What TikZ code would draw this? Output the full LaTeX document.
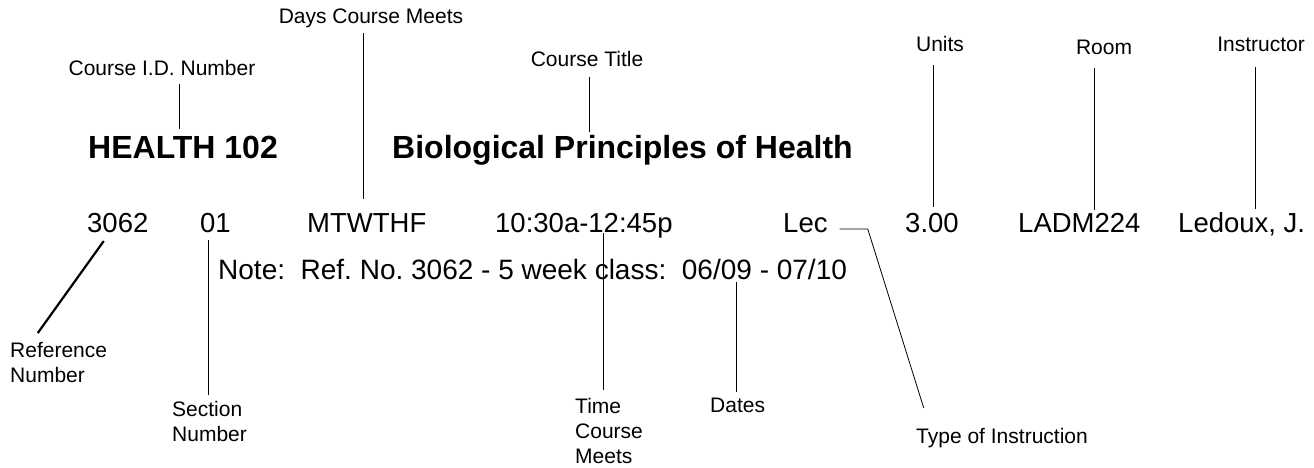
\documentclass[tikz,border=0pt]{standalone}
\usepackage{fontspec}
\setmainfont{Liberation Sans}
\frenchspacing

\begin{document}
\begin{tikzpicture}[x=1pt, y=-1pt,
    lbl/.style={inner sep=0pt, font=\fontsize{21}{25}\selectfont},
    row/.style={inner sep=0pt, anchor=base west, font=\fontsize{27.5}{33}\selectfont},
    ttl/.style={inner sep=0pt, anchor=base west, font=\fontsize{32}{38}\selectfont\bfseries},
    lead/.style={black, line width=0.8pt}]
            \useasboundingbox (0,0) rectangle (1314,468);

            % labels above
            \node[lbl, anchor=base] (lblDays) at (371,24) {Days Course Meets};
            \node[lbl, anchor=base] (lblCID) at (162,76) {Course I.D. Number};
            \node[lbl, anchor=base] (lblTitle) at (587,67) {Course Title};
            \node[lbl, anchor=base] (lblUnits) at (940,52) {Units};
            \node[lbl, anchor=base] (lblRoom) at (1104,55) {Room};
            \node[lbl, anchor=base] (lblInstr) at (1261,52) {Instructor};

            % course heading
            \node[ttl] (cid) at (88,158) {HEALTH 102};
            \node[ttl] (title) at (392,158) {Biological Principles of Health};

            % class line
            \node[row] (ref) at (87,232) {3062};
            \node[row] (sec) at (200,232) {01};
            \node[row] (days) at (307,232) {MTWTHF};
            \node[row] (time) at (495,232) {10:30a-12:45p};
            \node[row] (lec) at (783,232) {Lec};
            \node[row] (units) at (905,232) {3.00};
            \node[row] (room) at (1018,232) {LADM224};
            \node[row] (instr) at (1178,232) {Ledoux, J.};
            \node[row, font=\fontsize{28}{33}\selectfont] (note) at (218,279)
                {Note:\ \ Ref. No. 3062 - 5 week class:\ \ 06/09 - 07/10};

            % labels below
            \node[lbl, anchor=north west, align=left] (lblRef) at (10,342) {Reference\\Number};
            \node[lbl, anchor=north west, align=left] (lblSec) at (172,401) {Section\\Number};
            \node[lbl, anchor=north west, align=left] (lblTime) at (575,398) {Time\\Course\\Meets};
            \node[lbl, anchor=north west] (lblDates) at (710,398) {Dates};
            \node[lbl, anchor=north west] (lblType) at (916,428) {Type of Instruction};

            % leader lines
            \draw[lead] (lblDays.base) ++(-8,9) -- ++(0,166);
            \draw[lead] (lblCID.base) ++(17,8) -- ++(0,45);
            \draw[lead] (lblTitle.base) ++(2,10) -- ++(0,55);
            \draw[lead] (lblUnits.base) ++(-7,13) -- ++(0,142);
            \draw[lead] (lblRoom.base) ++(-10,13) -- ++(0,142);
            \draw[lead] (lblInstr.base) ++(-6,15) -- ++(0,142);

            \draw[black, line width=2.2pt] (ref.base) ++(-14,9) -- ++(-66,92);
            \draw[lead] (sec.base) ++(-7,8) -- ++(0,155);
            \draw[lead] (time.base) ++(20,1) -- ++(0,157);
            \draw[lead] (note.base west) ++(518,3) -- ++(0,110);
            \draw[lead] (lec.base east) ++(12,-3) -- ++(28,0) -- ++(56,179);
        \end{tikzpicture}
\end{document}
